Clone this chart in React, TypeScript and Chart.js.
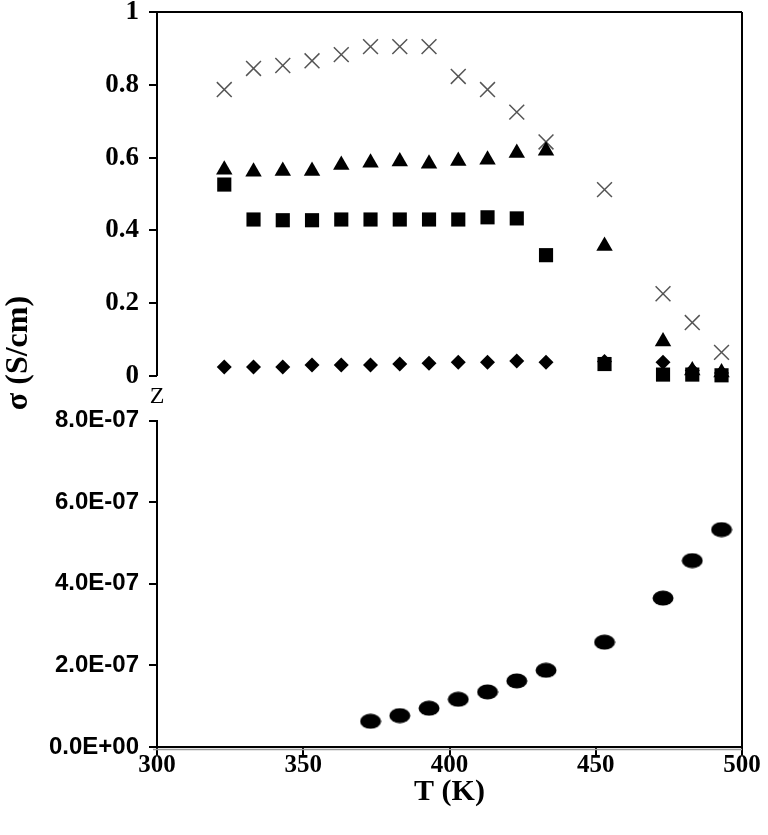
import React, { useEffect, useRef } from "react";
import { Chart, registerables } from "chart.js";

Chart.register(...registerables);

// Temperatures (K)
const temps = [323, 333, 343, 353, 363, 373, 383, 393, 403, 413, 423, 433, 453, 473, 483, 493];
// Upper panel series (S/cm)
const crossVals = [0.787, 0.845, 0.853, 0.866, 0.883, 0.905, 0.905, 0.905, 0.823, 0.787, 0.725, 0.643, 0.512, 0.226, 0.147, 0.065];
const triVals = [0.567, 0.561, 0.563, 0.563, 0.58, 0.586, 0.589, 0.583, 0.591, 0.594, 0.613, 0.619, 0.357, 0.095, 0.015, 0.01];
const sqVals = [0.526, 0.43, 0.428, 0.428, 0.43, 0.43, 0.43, 0.43, 0.43, 0.436, 0.433, 0.332, 0.033, 0.004, 0.004, 0.002];
const diaVals = [0.025, 0.025, 0.025, 0.03, 0.03, 0.03, 0.033, 0.035, 0.038, 0.038, 0.041, 0.038, 0.04, 0.038, 0.015, 0.008];
// Lower panel series (S/cm)
const circTemps = [373, 383, 393, 403, 413, 423, 433, 453, 473, 483, 493];
const circVals = [0.63e-7, 0.77e-7, 0.95e-7, 1.17e-7, 1.35e-7, 1.62e-7, 1.88e-7, 2.57e-7, 3.65e-7, 4.57e-7, 5.33e-7];
// Ticks
const upperTicks = [0, 0.2, 0.4, 0.6, 0.8, 1];
const xTitle = "T (K)";
const yTitle = "σ (S/cm)";

function fmtSci(v: number): string {
  if (Math.abs(v) < 1e-15) return "0.0E+00";
  const e = Math.floor(Math.log10(Math.abs(v)) + 1e-9);
  const m = v / Math.pow(10, e);
  const es = (e < 0 ? "-" : "+") + String(Math.abs(e)).padStart(2, "0");
  return m.toFixed(1) + "E" + es;
}

const pts = (xs: number[], ys: number[]) => xs.map((x, i) => ({ x, y: ys[i] }));

export default function App() {
  const ref = useRef<HTMLCanvasElement | null>(null);
  useEffect(() => {
    document.body.style.margin = "0";
    const ell = document.createElement("canvas");
    ell.width = 22;
    ell.height = 16;
    const ec = ell.getContext("2d")!;
    ec.fillStyle = "#000";
    ec.beginPath();
    ec.ellipse(11, 8, 10.5, 7.5, 0, 0, Math.PI * 2);
    ec.fill();

    const decor = {
      id: "decor",
      afterDraw(chart: any) {
        const ctx = chart.ctx;
        const a = chart.chartArea;
        const yT = chart.scales.yT;
        const yB = chart.scales.yB;
        const y1 = yT.getPixelForValue(1);
        const y0 = yT.getPixelForValue(0);
        ctx.save();
        ctx.strokeStyle = "#000";
        ctx.lineWidth = 2;
        ctx.beginPath();
        ctx.moveTo(a.left, y1);
        ctx.lineTo(a.left, y0);
        ctx.moveTo(a.left - 8, y1);
        ctx.lineTo(a.right, y1);
        ctx.moveTo(a.right, y1);
        ctx.lineTo(a.right, a.bottom + 4);
        ctx.stroke();
        ctx.strokeStyle = "#999";
        ctx.lineWidth = 1.5;
        ctx.beginPath();
        ctx.moveTo(a.left - 4, a.bottom + 2.5);
        ctx.lineTo(a.right, a.bottom + 2.5);
        ctx.stroke();
        ctx.fillStyle = "#000";
        ctx.font = '24px "Liberation Serif"';
        ctx.textAlign = "center";
        ctx.textBaseline = "middle";
        ctx.fillText("Z", a.left, (y0 + yB.top) / 2 - 2);
        ctx.translate(19, 353);
        ctx.rotate(-Math.PI / 2);
        ctx.font = 'bold 32px "Liberation Serif"';
        ctx.fillText(yTitle, 0, 0);
        ctx.restore();
      },
    };

    const serifBold = (size: number) => ({ family: "Liberation Serif", weight: "bold" as const, size });
    const sansBold = (size: number) => ({ family: "Liberation Sans", weight: "bold" as const, size });

    const chart = new Chart(ref.current!, {
      type: "scatter",
      data: {
        datasets: [
          { label: "sq", data: pts(temps, sqVals), yAxisID: "yT", pointStyle: "rect", pointRadius: 10, backgroundColor: "#000", borderColor: "#000", borderWidth: 0, clip: false } as any,
          { label: "dia", data: pts(temps, diaVals), yAxisID: "yT", pointStyle: "rectRot", pointRadius: 7.5, backgroundColor: "#000", borderColor: "#000", borderWidth: 0, clip: false },
          { label: "tri", data: pts(temps, triVals), yAxisID: "yT", pointStyle: "triangle", pointRadius: 9.5, backgroundColor: "#000", borderColor: "#000", borderWidth: 0, clip: false },
          { label: "cross", data: pts(temps, crossVals), yAxisID: "yT", pointStyle: "crossRot", pointRadius: 10.5, backgroundColor: "#555", borderColor: "#555", borderWidth: 1.5, clip: false },
          { label: "circ", data: pts(circTemps, circVals), yAxisID: "yB", pointStyle: ell as any, pointRadius: 10, backgroundColor: "#000", borderColor: "#000", clip: false },
        ],
      },
      options: {
        animation: false,
        responsive: false,
        devicePixelRatio: 1,
        layout: { padding: { top: 6, right: 26, bottom: 0, left: 0 } },
        plugins: { legend: { display: false }, tooltip: { enabled: false } },
        scales: {
          x: {
            type: "linear",
            min: 300,
            max: 500,
            ticks: { stepSize: 50, font: serifBold(25), color: "#000", padding: -4 },
            grid: { drawOnChartArea: false, color: "#000", lineWidth: 2, tickLength: 8 },
            border: { color: "#000", width: 2 },
            title: { display: true, text: xTitle, font: serifBold(30), color: "#000", padding: { top: 0, bottom: 25 } },
            afterFit: (s: any) => { s.height = 88; s.paddingLeft = 0; s.paddingRight = 0; },
          },
          yB: {
            type: "linear",
            position: "left",
            stack: "y",
            stackWeight: 329,
            weight: 0,
            min: 0,
            max: 8e-7,
            ticks: { stepSize: 2e-7, callback: (v: any) => fmtSci(Number(v)), font: sansBold(24), color: "#000", padding: 10 },
            grid: { drawOnChartArea: false, color: "#000", lineWidth: 2, tickLength: 8 },
            border: { color: "#000", width: 2 },
            afterFit: (s: any) => { s.width = 157; s.paddingTop = 0; s.paddingBottom = 0; },
          },
          yT: {
            type: "linear",
            position: "left",
            stack: "y",
            stackWeight: 412,
            weight: 1,
            min: -0.1226,
            max: 1,
            afterBuildTicks: (s: any) => { s.ticks = upperTicks.map((v) => ({ value: v })); },
            ticks: { callback: (v: any) => String(Math.round(Number(v) * 10) / 10), font: serifBold(27), color: "#000", padding: 10 },
            grid: { drawOnChartArea: false, color: "#000", lineWidth: 2, tickLength: 8 },
            border: { display: false },
            afterFit: (s: any) => { s.width = 157; s.paddingTop = 0; s.paddingBottom = 0; },
          },
        } as any,
      },
      plugins: [decor],
    });
    return () => chart.destroy();
  }, []);
  return (
    <div style={{ width: 768, height: 835, position: "relative", background: "#fff" }}>
      <canvas ref={ref} width={768} height={835} style={{ display: "block" }} />
    </div>
  );
}
